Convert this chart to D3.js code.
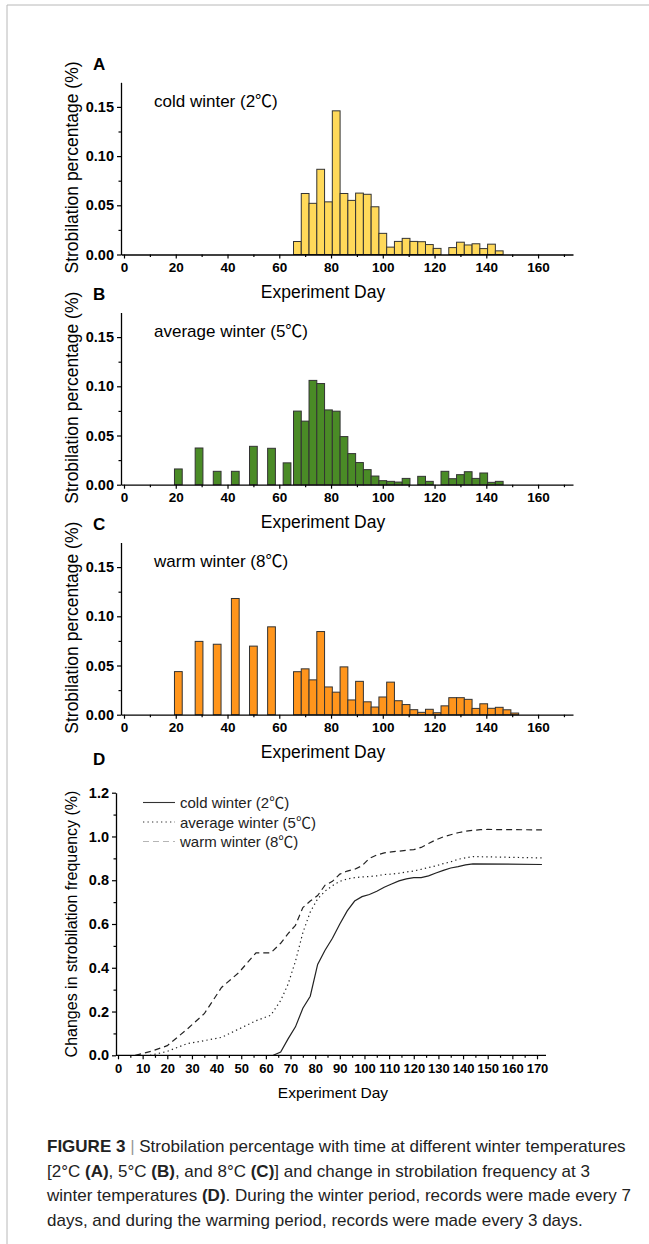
<!DOCTYPE html>
<html>
<head>
<meta charset="utf-8">
<script src="https://cdn.jsdelivr.net/npm/d3@7"></script>
<style>
  body { margin: 0; background: #fff; }
  svg { display: block; font-family: "Liberation Sans", Arial, "Noto Sans CJK SC", sans-serif; }
</style>
</head>
<body>
<svg id="fig" width="649" height="1244"></svg>
<script>
// ---- data ----
// A: cold winter (2℃), bar centre day / strobilation percentage
var coldDays = [67, 70, 73, 76, 79, 82, 85, 88, 91, 94, 97, 100, 103, 106, 109, 112, 115, 118, 121, 127, 130, 133, 136, 139, 142, 145];
var coldVals = [0.0132, 0.062, 0.052, 0.0866, 0.0535, 0.146, 0.062, 0.055, 0.0624, 0.0612, 0.0485, 0.0215, 0.0075, 0.0133, 0.0164, 0.0133, 0.013, 0.0101, 0.0062, 0.007, 0.0125, 0.0097, 0.0109, 0.006, 0.0105, 0.0037];

// B: average winter (5℃)
var avgDays = [21, 29, 36, 43, 50, 57, 63, 67, 70, 73, 76, 79, 82, 85, 88, 91, 94, 97, 100, 103, 106, 109, 115, 118, 124, 127, 130, 133, 136, 139, 142, 145];
var avgVals = [0.016, 0.0373, 0.0136, 0.0136, 0.039, 0.037, 0.0222, 0.0748, 0.0646, 0.106, 0.1028, 0.076, 0.0747, 0.0489, 0.0316, 0.0225, 0.0153, 0.0088, 0.0041, 0.0034, 0.0027, 0.0064, 0.0085, 0.0034, 0.0136, 0.0061, 0.0102, 0.0132, 0.0064, 0.0119, 0.0024, 0.0034];

// C: warm winter (8℃)
var warmDays = [21, 29, 36, 43, 50, 57, 67, 70, 73, 76, 79, 82, 85, 88, 91, 94, 97, 100, 103, 106, 109, 112, 115, 118, 121, 124, 127, 130, 133, 136, 139, 142, 145, 148, 151];
var warmVals = [0.0438, 0.0745, 0.0716, 0.1181, 0.0697, 0.0893, 0.0437, 0.0466, 0.0354, 0.0845, 0.0282, 0.0229, 0.0486, 0.015, 0.0339, 0.0131, 0.0078, 0.018, 0.0331, 0.0142, 0.0103, 0.0051, 0.0024, 0.0055, 0.002, 0.009, 0.0173, 0.0173, 0.0156, 0.0064, 0.0111, 0.0065, 0.0075, 0.005, 0.0017];

// D: change in strobilation frequency
var cumColdDays = [63, 66, 69, 72, 75, 78, 81, 84, 87, 90, 93, 96, 99, 102, 105, 108, 111, 114, 117, 120, 123, 126, 129, 132, 135, 138, 141, 144, 172];
var cumColdVals = [0, 0.015, 0.075, 0.13, 0.215, 0.27, 0.415, 0.48, 0.535, 0.6, 0.66, 0.705, 0.725, 0.735, 0.75, 0.768, 0.783, 0.797, 0.806, 0.812, 0.812, 0.82, 0.833, 0.845, 0.856, 0.862, 0.87, 0.875, 0.872];

var cumAvgDays = [13, 20, 28, 35, 42, 49, 56, 62, 66, 69, 72, 75, 78, 81, 84, 87, 90, 93, 96, 99, 102, 105, 108, 111, 114, 117, 120, 123, 126, 129, 132, 135, 138, 141, 144, 172];
var cumAvgVals = [0, 0.018, 0.053, 0.067, 0.082, 0.12, 0.158, 0.183, 0.25, 0.325, 0.43, 0.56, 0.655, 0.715, 0.75, 0.775, 0.795, 0.806, 0.812, 0.815, 0.817, 0.82, 0.826, 0.828, 0.832, 0.838, 0.842, 0.85, 0.858, 0.866, 0.876, 0.884, 0.896, 0.902, 0.908, 0.902];

var cumWarmDays = [7, 14, 20, 28, 35, 42, 49, 56, 62, 66, 69, 72, 75, 78, 81, 84, 87, 90, 93, 96, 99, 102, 105, 108, 111, 114, 117, 120, 123, 126, 129, 132, 135, 138, 141, 144, 147, 150, 172];
var cumWarmVals = [0, 0.02, 0.044, 0.119, 0.19, 0.31, 0.378, 0.468, 0.468, 0.512, 0.556, 0.594, 0.675, 0.705, 0.73, 0.777, 0.795, 0.828, 0.842, 0.85, 0.866, 0.9, 0.915, 0.925, 0.93, 0.933, 0.937, 0.94, 0.95, 0.968, 0.985, 0.998, 1.008, 1.017, 1.024, 1.028, 1.031, 1.032, 1.03];

var barTicks = [0, 20, 40, 60, 80, 100, 120, 140, 160];
var barMinor = [10, 30, 50, 70, 90, 110, 130, 150, 170];
var pctTicks = [0, 0.05, 0.10, 0.15];
var pctMinor = [0.025, 0.075, 0.125];
var dayTicksD = d3.range(0, 171, 10);
var freqTicks = [0, 0.2, 0.4, 0.6, 0.8, 1.0, 1.2];
var freqMinor = [0.1, 0.3, 0.5, 0.7, 0.9, 1.1];

var svg = d3.select("#fig");

// frame
svg.append("path").attr("d", "M7,1244V5H649").attr("fill", "none")
  .attr("stroke", "#b8b8b8").attr("stroke-width", 1);

function styleAxis(ax, size) {
  ax.select(".domain").attr("stroke", "#000").attr("stroke-width", 1.3);
  ax.selectAll(".tick line").attr("stroke", "#000").attr("stroke-width", 1.2);
  ax.selectAll(".tick text").attr("fill", "#000").attr("font-weight", "bold")
    .attr("font-size", (size || 13.5) + "px").attr("font-family", "Liberation Sans, Arial, sans-serif");
}

function barPanel(letter, label, days, vals, color, base) {
  var x = d3.scaleLinear().domain([-1.16, 173.5]).range([121, 573]);
  var y = d3.scaleLinear().domain([0, 0.175]).range([base, base - 172.2]);
  var g = svg.append("g");

  g.selectAll("rect").data(days).enter().append("rect")
    .attr("x", function (d) { return x(d - 1.5); })
    .attr("width", function (d) { return x(d + 1.5) - x(d - 1.5); })
    .attr("y", function (d, i) { return y(vals[i]); })
    .attr("height", function (d, i) { return base - y(vals[i]); })
    .attr("fill", color).attr("stroke", "#333").attr("stroke-width", 1);

  var xa = g.append("g").attr("transform", "translate(0," + base + ")")
    .call(d3.axisBottom(x).tickValues(barTicks).tickSize(4).tickSizeOuter(0).tickPadding(4));
  styleAxis(xa, 13.5);
  var xm = g.append("g").attr("transform", "translate(0," + base + ")")
    .call(d3.axisBottom(x).tickValues(barMinor).tickSize(2.5).tickFormat(""));
  xm.select(".domain").remove();
  styleAxis(xm);

  var ya = g.append("g").attr("transform", "translate(121,0)")
    .call(d3.axisLeft(y).tickValues(pctTicks).tickFormat(d3.format(".2f")).tickSize(4).tickSizeOuter(0).tickPadding(3));
  styleAxis(ya, 14.5);
  var ym = g.append("g").attr("transform", "translate(121,0)")
    .call(d3.axisLeft(y).tickValues(pctMinor).tickSize(2.5).tickFormat(""));
  ym.select(".domain").remove();
  styleAxis(ym);

  g.append("text").attr("x", 93).attr("y", base - 185).attr("font-weight", "bold")
    .attr("font-size", "17px").text(letter);
  g.append("text").attr("x", 154).attr("y", base - 147.5).attr("font-size", "17px").text(label);
  g.append("text").attr("x", 323).attr("y", base + 43.5).attr("text-anchor", "middle")
    .attr("font-size", "17.5px").text("Experiment Day");
  g.append("text").attr("transform", "translate(78," + (base - 87) + ") rotate(-90)")
    .attr("text-anchor", "middle").attr("font-size", "17.5px").text("Strobilation percentage (%)");
}

barPanel("A", "cold winter (2\u2103)", coldDays, coldVals, "#ffd95a", 254.5);
barPanel("B", "average winter (5\u2103)", avgDays, avgVals, "#4a8b26", 484.7);
barPanel("C", "warm winter (8\u2103)", warmDays, warmVals, "#ff951c", 714.7);

// ---- panel D ----
var xd = d3.scaleLinear().domain([0, 170]).range([118, 537]);
var yd = d3.scaleLinear().domain([0, 1.2]).range([1055.3, 792.7]);
var gd = svg.append("g");

var line = d3.line().x(function (d) { return xd(d[0]); }).y(function (d) { return yd(d[1]); });
function series(days, vals) { return days.map(function (d, i) { return [d, vals[i]]; }); }

var lineSpecs = [
  { days: cumColdDays, vals: cumColdVals, dash: null, legend: "cold winter (2\u2103)", legendColor: "#333" },
  { days: cumAvgDays, vals: cumAvgVals, dash: "1.3,3.2", legend: "average winter (5\u2103)", legendColor: "#333" },
  { days: cumWarmDays, vals: cumWarmVals, dash: "6,4", legend: "warm winter (8\u2103)", legendColor: "#b5b5b5" }
];

lineSpecs.forEach(function (s) {
  gd.append("path").datum(series(s.days, s.vals)).attr("d", line)
    .attr("fill", "none").attr("stroke", "#222").attr("stroke-width", 1.2)
    .attr("stroke-dasharray", s.dash);
});

var xda = gd.append("g").attr("transform", "translate(0,1055.3)")
  .call(d3.axisBottom(xd).tickValues(dayTicksD).tickSize(4).tickSizeOuter(0).tickPadding(4));
xda.select(".domain").attr("d", "M116,0H546");
styleAxis(xda, 13);
var xdm = gd.append("g").attr("transform", "translate(0,1055.3)")
  .call(d3.axisBottom(xd).tickValues(d3.range(5, 175, 10)).tickSize(2.5).tickFormat(""));
xdm.select(".domain").remove();
styleAxis(xdm);

var yda = gd.append("g").attr("transform", "translate(116,0)")
  .call(d3.axisLeft(yd).tickValues(freqTicks).tickFormat(d3.format(".1f")).tickSize(4).tickSizeOuter(0).tickPadding(3));
styleAxis(yda, 14.5);
var ydm = gd.append("g").attr("transform", "translate(116,0)")
  .call(d3.axisLeft(yd).tickValues(freqMinor).tickSize(2.5).tickFormat(""));
ydm.select(".domain").remove();
styleAxis(ydm);

lineSpecs.forEach(function (s, i) {
  var ly = 802.5 + i * 19.5;
  gd.append("line").attr("x1", 143).attr("x2", 175).attr("y1", ly).attr("y2", ly)
    .attr("stroke", s.legendColor).attr("stroke-width", 1.1).attr("stroke-dasharray", s.dash);
  gd.append("text").attr("x", 180).attr("y", ly + 5.5).attr("font-size", "15px").attr("fill", "#222").text(s.legend);
});

gd.append("text").attr("x", 93).attr("y", 765).attr("font-weight", "bold").attr("font-size", "17px").text("D");
gd.append("text").attr("x", 333).attr("y", 1098).attr("text-anchor", "middle")
  .attr("font-size", "15.5px").text("Experiment Day");
gd.append("text").attr("transform", "translate(77,924) rotate(-90)")
  .attr("text-anchor", "middle").attr("font-size", "16px").text("Changes in strobilation frequency (%)");

// ---- caption ----
var capLines = [
  [["FIGURE 3", true], [" ", false], ["|", "bar"], [" Strobilation percentage with time at different winter temperatures", false]],
  [["[2\u00b0C ", false], ["(A)", true], [", 5\u00b0C ", false], ["(B)", true], [", and 8\u00b0C ", false], ["(C)", true], ["] and change in strobilation frequency at 3", false]],
  [["winter temperatures ", false], ["(D)", true], [". During the winter period, records were made every 7", false]],
  [["days, and during the warming period, records were made every 3 days.", false]]
];
var cap = svg.append("g").attr("font-size", "17px").attr("fill", "#222");
capLines.forEach(function (parts, i) {
  var t = cap.append("text").attr("x", 47).attr("y", 1152 + i * 24.7);
  parts.forEach(function (p) {
    var sp = t.append("tspan").text(p[0]);
    if (p[1] === true) sp.attr("font-weight", "bold");
    if (p[1] === "bar") sp.attr("fill", "#999").attr("font-weight", "normal");
  });
});
</script>
</body>
</html>
